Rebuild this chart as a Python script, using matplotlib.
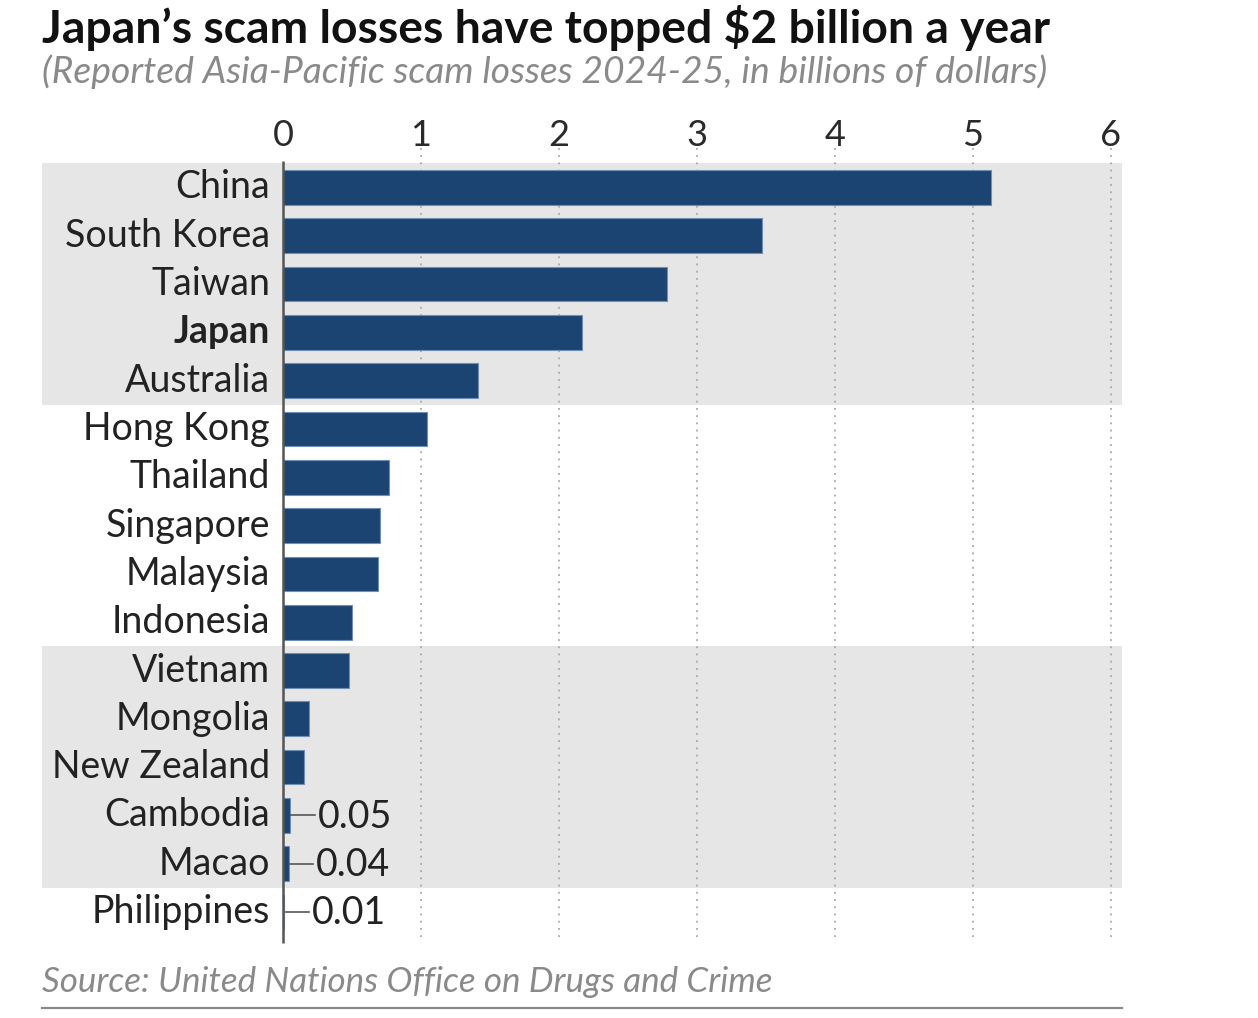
import matplotlib
matplotlib.use("Agg")
import matplotlib.pyplot as plt

countries = ["China", "South Korea", "Taiwan", "Japan", "Australia", "Hong Kong",
             "Thailand", "Singapore", "Malaysia", "Indonesia", "Vietnam", "Mongolia",
             "New Zealand", "Cambodia", "Macao", "Philippines"]
losses = [5.13, 3.47, 2.78, 2.17, 1.41, 1.04, 0.77, 0.70, 0.69, 0.50, 0.48, 0.19,
          0.15, 0.05, 0.04, 0.01]
small_labels = {"Cambodia": "0.05", "Macao": "0.04", "Philippines": "0.01"}
xticks = [0, 1, 2, 3, 4, 5, 6]
title = "Japan\u2019s scam losses have topped $2 billion a year"
subtitle = "(Reported Asia-Pacific scam losses 2024-25, in billions of dollars)"
source = "Source: United Nations Office on Drugs and Crime"

FONT = ["Lato", "DejaVu Sans"]
plt.rcParams["font.family"] = FONT

W, H = 1258, 1018
fig = plt.figure(figsize=(W / 100, H / 100), dpi=100)

# axes pixel box
L, R, T, B = 42, 1122, 148, 945
ax = fig.add_axes([L / W, 1 - B / H, (R - L) / W, (B - T) / H])
x0px, ppu = 283, 138.0
row0, rowh = 187.5, 48.3
ax.set_xlim(-(x0px - L) / ppu, (R - x0px) / ppu)
ax.set_ylim((B - row0) / rowh, (T - row0) / rowh)
for s in ax.spines.values():
    s.set_visible(False)
ax.set_yticks([])

band = "#e6e6e6"
ax.axhspan(-0.5, 4.5, color=band, lw=0, zorder=0)
ax.axhspan(9.5, 14.5, color=band, lw=0, zorder=0)

ybot = (942 - row0) / rowh
ax.vlines(xticks[1:], (T - row0) / rowh, ybot, colors="#a8a8a8",
          linestyles=(0, (1, 3)), lw=1.3, zorder=1)
ax.vlines(0, -0.55, (943 - row0) / rowh, colors="#555555", lw=1.8, zorder=3)

ypos = list(range(len(countries)))
ax.barh(ypos, losses, height=0.72, color="#1b4472", edgecolor="#6f8fb5",
        linewidth=0.8, zorder=2)

ax.set_xticks(xticks)
ax.set_xticklabels([str(t) for t in xticks])
ax.tick_params(axis="x", top=True, labeltop=True, bottom=False, labelbottom=False,
               length=0, pad=-3, labelsize=26, labelcolor="#2a2a2a")

lab_x = (270 - x0px) / ppu
for i, (c, v) in enumerate(zip(countries, losses)):
    ax.text(lab_x, i, c, ha="right", va="center", fontsize=27,
            color="#222222", fontweight="bold" if c == "Japan" else "normal")
    if c in small_labels:
        ax.plot([v + 0.01, v + 0.18], [i, i], color="#555555", lw=1.2, zorder=3)
        ax.text(v + 0.2, i + 0.03, small_labels[c], ha="left", va="center",
                fontsize=27, color="#222222")

fig.text(L / W, 1 - 28 / H, title, ha="left", va="center", fontsize=33.3,
         fontweight="bold", color="#111111")
fig.text(L / W, 1 - 72 / H, subtitle, ha="left", va="center", fontsize=26.8,
         fontstyle="italic", color="#8a8a8a")
fig.text(L / W, 1 - 982 / H, source, ha="left", va="center", fontsize=25.2,
         fontstyle="italic", color="#8a8a8a")
fig.add_artist(plt.Line2D([L / W, R / W], [1 - 1008 / H, 1 - 1008 / H],
                          color="#8a8a8a", lw=1.6))

fig.savefig("out.png", dpi=100, facecolor="white")
